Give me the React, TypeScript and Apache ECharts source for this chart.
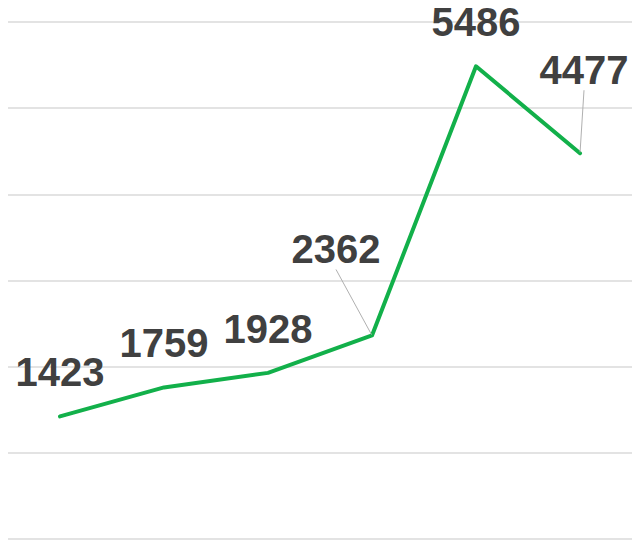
import React, { useEffect, useRef } from "react";
import * as echarts from "echarts";

const categories = ["1", "2", "3", "4", "5", "6"];
const values = [1423, 1759, 1928, 2362, 5486, 4477];
const labelShifts: ([number, number] | null)[] = [null, null, null, [-36, -33], null, [4, -30]];

export default function App() {
  const ref = useRef<HTMLDivElement>(null);
  useEffect(() => {
    if (!ref.current) return;
    const chart = echarts.init(ref.current, null, { renderer: "svg" });
    chart.setOption({
      animation: false,
      grid: { left: 8, right: 1, top: 22, bottom: 2, containLabel: false },
      xAxis: {
        type: "category",
        data: categories,
        boundaryGap: true,
        axisLine: { show: false },
        axisTick: { show: false },
        axisLabel: { show: false },
      },
      yAxis: {
        type: "value",
        min: 0,
        max: 6000,
        interval: 1000,
        axisLabel: { show: false },
        axisLine: { show: false },
        axisTick: { show: false },
        splitLine: { lineStyle: { color: "#e3e3e3", width: 2 } },
      },
      series: [
        {
          type: "line",
          data: values.map((v, i) => {
            const off = labelShifts[i];
            if (!off) return v;
            return {
              value: v,
              label: { padding: [0, 0, 9, 0] },
              labelLine: { show: true, length2: 0, lineStyle: { color: "#b0b0b0", width: 1 } },
            };
          }),
          symbol: "circle",
          symbolSize: 2,
          showSymbol: true,
          itemStyle: { color: "transparent" },
          lineStyle: { color: "#12b04a", width: 4, cap: "round", join: "round" },
          label: {
            show: true,
            position: "top",
            distance: 23,
            fontFamily: "Liberation Sans, Arial, sans-serif",
            fontWeight: "bold",
            fontSize: 40,
            color: "#404040",
          },
          labelLayout: (params: any) => {
            const off = labelShifts[params.dataIndex];
            if (!off) return {};
            return { dx: off[0], dy: off[1] };
          },
        },
      ],
    });
    return () => chart.dispose();
  }, []);
  return <div ref={ref} style={{ width: 633, height: 541, position: "absolute", left: 0, top: 0 }} />;
}
